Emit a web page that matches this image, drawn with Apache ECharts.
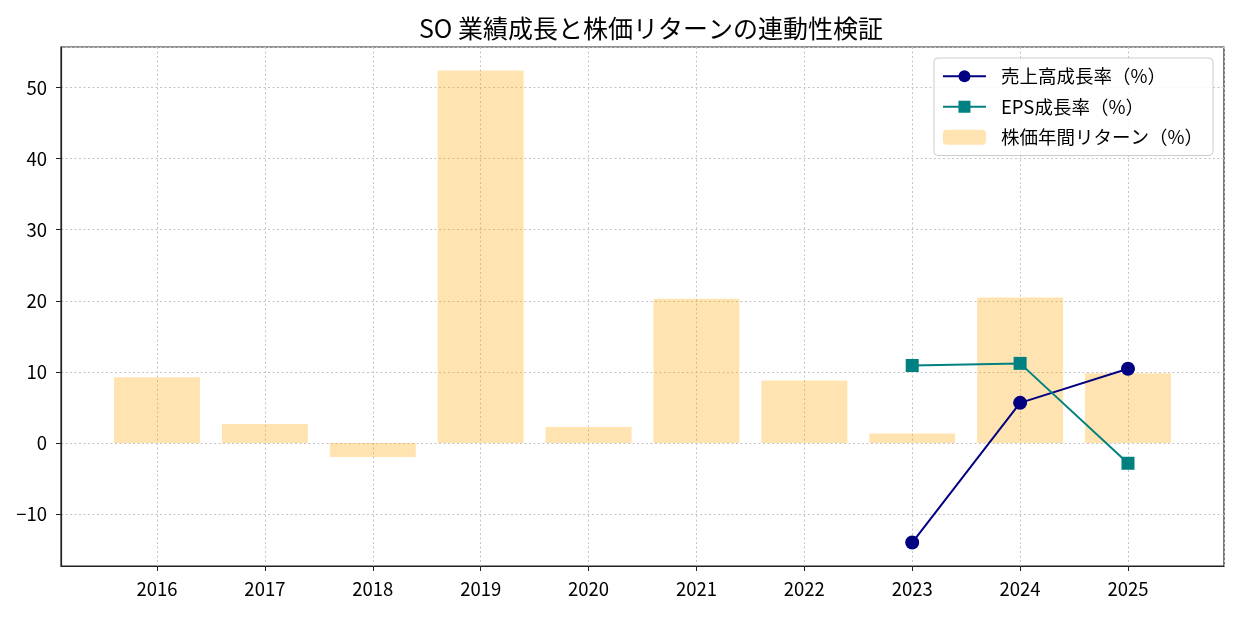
<!DOCTYPE html>
<html>
<head>
<meta charset="utf-8">
<script src="https://cdn.jsdelivr.net/npm/echarts@6/dist/echarts.min.js"></script>
<style>
  html, body { margin: 0; padding: 0; background: #fff; }
  #main { width: 1238px; height: 617px; }
</style>
</head>
<body>
<div id="main"></div>
<script>
const years = ['2016', '2017', '2018', '2019', '2020', '2021', '2022', '2023', '2024', '2025'];
// 株価年間リターン（%）
const stockReturn = [9.24, 2.66, -1.96, 52.4, 2.24, 20.3, 8.8, 1.35, 20.45, 9.8];
// 売上高成長率（%）
const salesGrowth = [null, null, null, null, null, null, null, -14.0, 5.65, 10.45];
// EPS成長率（%）
const epsGrowth = [null, null, null, null, null, null, null, 10.9, 11.2, -2.85];

const jpFont = '"Noto Sans CJK JP", "Noto Sans", sans-serif';
const gridLine = { show: true, lineStyle: { type: [2, 2.5], color: '#c4c4c4', width: 1 } };

function toPoints(arr) {
    return arr.map((v, i) => [i, v]).filter(p => p[1] !== null);
}

const chart = echarts.init(document.getElementById('main'));

const option = {
    animation: false,
    textStyle: { fontFamily: jpFont },
    title: {
        text: 'SO 業績成長と株価リターンの連動性検証',
        left: 646,
        textAlign: 'center',
        top: 11,
        textStyle: { fontSize: 25, fontWeight: 'normal', color: '#000', fontFamily: jpFont }
    },
    grid: {
        left: 61, right: 14, top: 47, bottom: 51,
        show: true, borderColor: '#222', borderWidth: 1.2, backgroundColor: 'transparent'
    },
    legend: {
        orient: 'vertical',
        right: 25,
        top: 58,
        itemWidth: 43,
        itemHeight: 15,
        itemGap: 12,
        padding: [9, 10, 9, 8],
        backgroundColor: 'rgba(255,255,255,0.85)',
        borderColor: '#cccccc',
        borderWidth: 1,
        borderRadius: 4,
        textStyle: { fontSize: 18.5, color: '#000', fontFamily: jpFont, padding: [0, 0, 0, 10] },
        data: ['売上高成長率（%）', 'EPS成長率（%）', '株価年間リターン（%）']
    },
    xAxis: {
        type: 'value',
        min: -0.89,
        max: 9.89,
        minInterval: 1,
        maxInterval: 1,
        axisLine: { show: true, onZero: false, lineStyle: { color: '#222', width: 1.2 } },
        axisTick: { show: true, length: 5, lineStyle: { color: '#222' } },
        axisLabel: {
            showMinLabel: false, showMaxLabel: false,
            color: '#000', fontSize: 18.5, margin: 14,
            formatter: v => {
                const r = Math.round(v);
                return Math.abs(v - r) < 1e-6 && years[r] ? years[r] : '';
            }
        },
        splitLine: gridLine
    },
    yAxis: {
        type: 'value',
        min: -17.3,
        max: 55.7,
        minInterval: 10,
        maxInterval: 10,
        axisLine: { show: true, onZero: false, lineStyle: { color: '#222', width: 1.2 } },
        axisTick: { show: true, length: 5, lineStyle: { color: '#222' } },
        axisLabel: {
            showMinLabel: false, showMaxLabel: false,
            color: '#000', fontSize: 18.5, margin: 14,
            formatter: v => {
                const r = Math.round(v);
                if (Math.abs(v - r) > 1e-6 || r % 10 !== 0) return '';
                return r < 0 ? '\u2212' + Math.abs(r) : String(r);
            }
        },
        splitLine: gridLine
    },
    series: [
        {
            name: '株価年間リターン（%）',
            type: 'bar',
            barWidth: 86,
            itemStyle: { color: 'rgba(255,165,0,0.3)' },
            data: toPoints(stockReturn),
            z: 1
        },
        {
            name: '売上高成長率（%）',
            type: 'line',
            symbol: 'circle',
            symbolSize: 14,
            lineStyle: { color: '#000080', width: 2 },
            itemStyle: { color: '#000080' },
            data: toPoints(salesGrowth),
            z: 3
        },
        {
            name: 'EPS成長率（%）',
            type: 'line',
            symbol: 'rect',
            symbolSize: 13,
            lineStyle: { color: '#008080', width: 2 },
            itemStyle: { color: '#008080' },
            data: toPoints(epsGrowth),
            z: 3
        }
    ]
};

chart.setOption(option);
window.addEventListener('resize', () => {
    chart.resize();
});
</script>
</body>
</html>
